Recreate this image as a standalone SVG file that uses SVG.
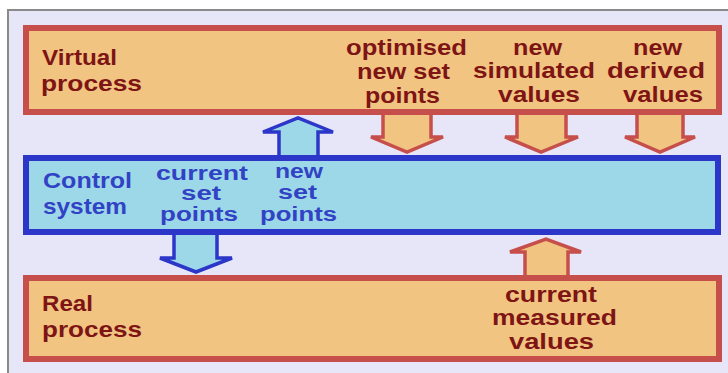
<svg xmlns="http://www.w3.org/2000/svg" width="728" height="373" viewBox="0 0 728 373">
  <style>
    .frame { fill: #e6e6f8; stroke: #8a8a8a; stroke-width: 2; }
    .proc { fill: #f1c482; stroke: #c64f4b; stroke-width: 6; }
    .ctrl { fill: #9cd8e8; stroke: #2c36c8; stroke-width: 6; }
    .arr-proc { fill: #f1c482; stroke: #c64f4b; stroke-width: 3.5; stroke-linejoin: miter; }
    .arr-ctrl { fill: #9cd8e8; stroke: #2c36c8; stroke-width: 3.5; stroke-linejoin: miter; }
    text { font-family: "Liberation Sans", Arial, Helvetica, sans-serif; font-weight: bold; font-size: 22px; }
    .tp { fill: #7e1414; }
    .tc { fill: #3242c4; }
    .tight { font-size: 20px; }
  </style>

  <rect width="728" height="373" fill="#ffffff"/>
  <!-- panel background with grey frame on the top and left -->
  <rect class="frame" x="8" y="10" width="730" height="380"/>

  <!-- block arrows between the three layers -->
  <g id="connectors">
    <!-- control system -> virtual process (new set points) -->
    <polygon class="arr-ctrl" points="279,160 279,132 263,132 298,118 333,132 318,132 318,160"/>
    <!-- virtual process -> control system -->
    <polygon class="arr-proc" points="383,112 383,137 371,137 407,152 443,137 431,137 431,112"/>
    <polygon class="arr-proc" points="517,112 517,137 505,137 541,152 578,137 566,137 566,112"/>
    <polygon class="arr-proc" points="637,112 637,137 625,137 660,152 695,137 683,137 683,112"/>
    <!-- control system -> real process (current set points) -->
    <polygon class="arr-ctrl" points="174,230 174,258 160,258 196,272 232,258 217,258 217,230"/>
    <!-- real process -> control system (current measured values) -->
    <polygon class="arr-proc" points="525,280 525,252 510,252 546,239 581,252 568,252 568,280"/>
  </g>

  <g id="virtual-process">
    <rect class="proc" x="26" y="28" width="693" height="84"/>
    <text class="tp" x="42" y="65" textLength="75" lengthAdjust="spacingAndGlyphs">Virtual</text>
    <text class="tp" x="41" y="91" textLength="101" lengthAdjust="spacingAndGlyphs">process</text>
    <text class="tp" x="346" y="55" textLength="121" lengthAdjust="spacingAndGlyphs">optimised</text>
    <text class="tp" x="357" y="79" textLength="93" lengthAdjust="spacingAndGlyphs">new set</text>
    <text class="tp" x="365" y="103" textLength="75" lengthAdjust="spacingAndGlyphs">points</text>
    <text class="tp" x="513" y="55" textLength="49" lengthAdjust="spacingAndGlyphs">new</text>
    <text class="tp" x="473" y="78" textLength="122" lengthAdjust="spacingAndGlyphs">simulated</text>
    <text class="tp" x="498" y="102" textLength="82" lengthAdjust="spacingAndGlyphs">values</text>
    <text class="tp" x="633" y="55" textLength="49" lengthAdjust="spacingAndGlyphs">new</text>
    <text class="tp" x="607" y="78" textLength="98" lengthAdjust="spacingAndGlyphs">derived</text>
    <text class="tp" x="623" y="102" textLength="80" lengthAdjust="spacingAndGlyphs">values</text>
  </g>

  <g id="control-system">
    <rect class="ctrl" x="26" y="158" width="692" height="74"/>
    <text class="tc" x="43" y="188" textLength="89" lengthAdjust="spacingAndGlyphs">Control</text>
    <text class="tc" x="43" y="214" textLength="84" lengthAdjust="spacingAndGlyphs">system</text>
    <text class="tc tight" x="156" y="180" textLength="92" lengthAdjust="spacingAndGlyphs">current</text>
    <text class="tc tight" x="181" y="200" textLength="40" lengthAdjust="spacingAndGlyphs">set</text>
    <text class="tc tight" x="160" y="221" textLength="78" lengthAdjust="spacingAndGlyphs">points</text>
    <text class="tc tight" x="275" y="178" textLength="48" lengthAdjust="spacingAndGlyphs">new</text>
    <text class="tc tight" x="278" y="199" textLength="39" lengthAdjust="spacingAndGlyphs">set</text>
    <text class="tc tight" x="260" y="221" textLength="77" lengthAdjust="spacingAndGlyphs">points</text>
  </g>

  <g id="real-process">
    <rect class="proc" x="26" y="278" width="693" height="81"/>
    <text class="tp" x="42" y="311" textLength="51" lengthAdjust="spacingAndGlyphs">Real</text>
    <text class="tp" x="42" y="337" textLength="100" lengthAdjust="spacingAndGlyphs">process</text>
    <text class="tp" x="505" y="302" textLength="92" lengthAdjust="spacingAndGlyphs">current</text>
    <text class="tp" x="492" y="325" textLength="125" lengthAdjust="spacingAndGlyphs">measured</text>
    <text class="tp" x="509" y="349" textLength="85" lengthAdjust="spacingAndGlyphs">values</text>
  </g>
</svg>
